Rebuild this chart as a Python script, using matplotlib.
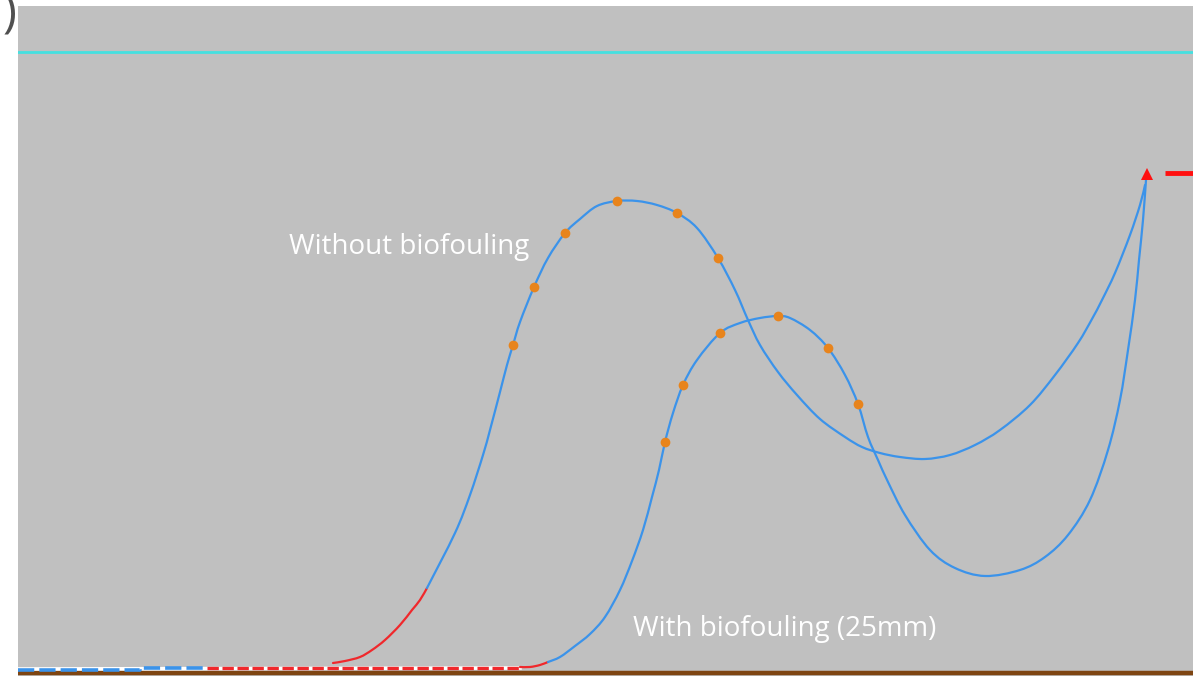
import matplotlib.pyplot as plt
from matplotlib.path import Path
from matplotlib.patches import PathPatch

# picture coordinates (x to the right, y downwards)
NO_FOUL_RED_X = [333, 345, 360, 372, 385, 400, 412, 420, 427]
NO_FOUL_RED_Y = [663, 661, 657, 650, 640, 625, 610, 600, 588]
NO_FOUL_X = [427, 455, 470, 483, 490, 500, 507, 513, 520, 534, 548, 565,
             580, 597, 617, 637, 657, 677, 697, 718, 735, 748, 760, 778, 797,
             820, 845, 862, 880, 900, 925, 950, 975, 1000, 1030, 1055, 1078,
             1092, 1102, 1115, 1130, 1140, 1145]
NO_FOUL_Y = [588, 533, 495, 455, 430, 392, 365, 345, 322, 287, 258, 233,
             219, 206, 201, 201, 205, 213, 228, 258, 290, 320, 345, 372, 395,
             419, 437, 447, 453, 457, 459, 455, 445, 430, 405, 375, 343,
             319, 300, 273, 235, 205, 185]
NO_FOUL_DOT_X = [513, 534, 565, 617, 677, 718]
NO_FOUL_DOT_Y = [345, 287, 233, 201, 213, 258]

FOUL_RED_X = [520, 530, 540, 548]
FOUL_RED_Y = [667, 667, 665, 662]
FOUL_X = [548, 560, 575, 590, 605, 620, 632, 643, 652, 659, 665, 673, 683,
          697, 720, 740, 760, 778, 790, 810, 828, 845, 858, 868, 878, 888,
          905, 930, 955, 985, 1020, 1045, 1068, 1090, 1108, 1120, 1128, 1135,
          1139, 1143, 1146]
FOUL_Y = [662, 657, 646, 634, 617, 590, 561, 530, 497, 470, 442, 413, 385,
          360, 333, 323, 318, 316, 318, 330, 348, 375, 404, 437, 460, 482,
          515, 550, 568, 576, 570, 557, 535, 500, 450, 400, 350, 300,
          260, 220, 180]
FOUL_DOT_X = [665, 683, 720, 778, 828, 858]
FOUL_DOT_Y = [442, 385, 333, 316, 348, 404]

BASE_BLUE_X = [18, 140, 140, 207]
BASE_BLUE_Y = [670, 670, 668, 668]
BASE_RED_X = [207, 520]
BASE_RED_Y = [668, 668]

BLUE = "#3b93ea"
RED = "#f0282c"
ORANGE = "#e8841c"
GRAY = "#c0c0c0"


def smooth_path(xs, ys):
    """Catmull-Rom through the read points, drawn as cubic Bezier segments."""
    pts = list(zip(xs, ys))
    verts = [pts[0]]
    codes = [Path.MOVETO]
    for i in range(len(pts) - 1):
        p0 = pts[i - 1] if i > 0 else pts[i]
        p1 = pts[i]
        p2 = pts[i + 1]
        p3 = pts[i + 2] if i + 2 < len(pts) else pts[i + 1]
        c1 = (p1[0] + (p2[0] - p0[0]) / 6, p1[1] + (p2[1] - p0[1]) / 6)
        c2 = (p2[0] - (p3[0] - p1[0]) / 6, p2[1] - (p3[1] - p1[1]) / 6)
        verts += [c1, c2, p2]
        codes += [Path.CURVE4] * 3
    return Path(verts, codes)


def draw_curve(ax, xs, ys, color):
    ax.add_patch(PathPatch(smooth_path(xs, ys), facecolor="none",
                           edgecolor=color, linewidth=1.6, zorder=5,
                           capstyle="round"))


fig = plt.figure(figsize=(11.93, 6.76), dpi=100)
fig.patch.set_facecolor("white")
ax = fig.add_axes([18 / 1193, 0, 1175 / 1193, 670 / 676])
ax.set_facecolor(GRAY)
ax.set_xlim(18, 1193)
ax.set_ylim(676, 6)
ax.axis("off")
ax.add_patch(plt.Rectangle((18, 6), 1175, 670, color=GRAY, zorder=0))

# water surface
ax.axhline(52, color="#45e0e0", linewidth=2, zorder=2)

# seabed
ax.axhline(673, color="#7e4512", linewidth=3.2, zorder=2)

# dashed baseline
ax.plot([18, 520], [669, 668], color="white", linewidth=2.6, zorder=3)
ax.plot(BASE_BLUE_X, BASE_BLUE_Y, color=BLUE, linewidth=2.6,
        dashes=(4.5, 1.4), zorder=4)
ax.plot(BASE_RED_X, BASE_RED_Y, color=RED, linewidth=2.4,
        dashes=(3.4, 1.1), zorder=4)

# curves
draw_curve(ax, NO_FOUL_RED_X, NO_FOUL_RED_Y, RED)
draw_curve(ax, NO_FOUL_X, NO_FOUL_Y, BLUE)
draw_curve(ax, FOUL_RED_X, FOUL_RED_Y, RED)
draw_curve(ax, FOUL_X, FOUL_Y, BLUE)

ax.plot(NO_FOUL_DOT_X, NO_FOUL_DOT_Y, "o", color=ORANGE, markersize=7,
        markeredgewidth=0, zorder=6)
ax.plot(FOUL_DOT_X, FOUL_DOT_Y, "o", color=ORANGE, markersize=7,
        markeredgewidth=0, zorder=6)

# end marker
ax.plot([1147], [174], marker="^", color="#ff1010", markersize=9,
        markeredgewidth=0, zorder=7)
ax.plot([1165, 1193], [173, 173], color="#ff1010", linewidth=3.5,
        solid_capstyle="butt", zorder=7)

ax.text(289, 247, "Without biofouling", color="white", fontsize=20,
        family="Open Sans", ha="left", va="center", zorder=8)
ax.text(633, 629, "With biofouling (25mm)", color="white", fontsize=20,
        family="Open Sans", ha="left", va="center", zorder=8)

fig.text(10 / 1193, 1 - 14 / 676, ")", color="#505050", fontsize=34,
         family="Open Sans", ha="center", va="center")

fig.savefig("out.png", dpi=100)
